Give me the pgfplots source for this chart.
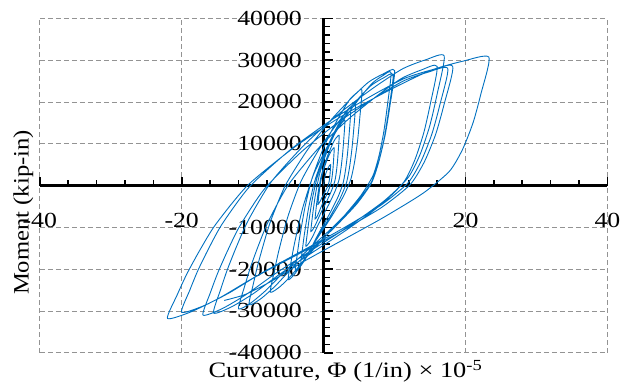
\documentclass[border=0pt]{standalone}
\usepackage{fontspec}
\setmainfont{Liberation Serif}
\usepackage{graphicx}
\usepackage{pgfplots}
\pgfplotsset{compat=1.18}
\definecolor{curve}{HTML}{0070C0}
\newcommand{\sx}[1]{\scalebox{1.2}[1]{#1}}
\begin{document}
\begin{tikzpicture}
\begin{axis}[
  scale only axis,
  width=567.6bp, height=334.4bp,
  xmin=-40, xmax=40, ymin=-40000, ymax=40000,
  scaled ticks=false,
  axis lines=middle,
  axis line style={-, line width=2.6bp, black},
  xtick={-40,-20,0,20,40},
  xticklabels={\sx{-40},\sx{-20},\sx{0},\sx{20},\sx{40}},
  ytick={-40000,-30000,-20000,-10000,0,10000,20000,30000,40000},
  yticklabels={\sx{-40000},\sx{-30000},\sx{-20000},\sx{-10000},\sx{0},\sx{10000},\sx{20000},\sx{30000},\sx{40000}},
  minor x tick num=4, minor y tick num=4,
  tick align=inside,
  major tick length=9bp, minor tick length=6bp,
  tick style={black, line width=1.6bp},
  grid=major,
  major grid style={dashed, dash pattern=on 5bp off 3bp, gray!85, line width=0.8bp},
  x tick label style={font=\fontsize{21.5bp}{24bp}\selectfont, anchor=center, yshift=-34.5bp, inner sep=0pt},
  y tick label style={font=\fontsize{21.5bp}{24bp}\selectfont, anchor=east, xshift=-21.6bp, inner sep=0pt},
  clip=false,
]
\addplot[color=curve, line width=0.9bp, smooth, tension=0.4] coordinates {
(0,0)
(0.03,450)(0.06,850)(0.1,1300)(0.15,1800)(0.25,2550)(0.4,3300)(0.55,3900)(0.7,4400)(0.82,4750)(0.92,4925)(1.0,5000)
(0.946,3575)(0.892,2435)(0.82,1390)(0.73,535)(0.55,-320)(0.28,-1270)(0.01,-2125)(-0.26,-2980)(-0.476,-3740)(-0.656,-4260)(-0.8,-4500)
(-0.73,-3285)(-0.66,-2205)(-0.57,-990)(-0.46,360)(-0.23,2385)(0.12,4410)(0.47,6030)(0.81,7380)(1.09,8325)(1.32,8800)(1.5,9000)
(1.42,6450)(1.34,4410)(1.23,2540)(1.1,1010)(0.83,-520)(0.42,-2220)(0.02,-3750)(-0.39,-5280)(-0.71,-6640)(-0.98,-7580)(-1.2,-8000)
(-1.1,-6200)(-1.0,-4600)(-0.86,-2800)(-0.69,-800)(-0.35,2200)(0.16,5200)(0.67,7600)(1.18,9600)(1.59,11000)(1.93,11700)(2.2,12000)
(2.08,8550)(1.96,5790)(1.8,3260)(1.6,1190)(1.2,-880)(0.6,-3180)(0.0,-5250)(-0.6,-7320)(-1.08,-9160)(-1.48,-10430)(-1.8,-11000)
(-1.66,-8615)(-1.51,-6495)(-1.32,-4110)(-1.08,-1460)(-0.6,2515)(0.12,6490)(0.84,9670)(1.56,12320)(2.14,14175)(2.62,15100)(3.0,15500)
(2.84,11000)(2.67,7400)(2.45,4100)(2.18,1400)(1.63,-1300)(0.8,-4300)(-0.03,-7000)(-0.85,-9700)(-1.51,-12100)(-2.06,-13750)(-2.5,-14500)
(-2.31,-11620)(-2.12,-9060)(-1.87,-6180)(-1.56,-2980)(-0.93,1820)(0.02,6620)(0.97,10460)(1.91,13660)(2.67,15900)(3.3,17020)(3.8,17500)
(3.59,12100)(3.38,7780)(3.1,3820)(2.75,580)(2.05,-2660)(1.0,-6260)(-0.05,-9500)(-1.1,-12740)(-1.94,-15620)(-2.64,-17600)(-3.2,-18500)
(-2.97,-15080)(-2.74,-12040)(-2.43,-8620)(-2.05,-4820)(-1.28,880)(-0.12,6580)(1.04,11140)(2.19,14940)(3.11,17600)(3.88,18930)(4.5,19500)
(4.25,13500)(3.99,8700)(3.65,4300)(3.23,700)(2.38,-2900)(1.1,-6900)(-0.18,-10500)(-1.45,-14100)(-2.47,-17300)(-3.32,-19500)(-4.0,-20500)
(-3.72,-16600)(-3.44,-13140)(-3.06,-9240)(-2.59,-4910)(-1.65,1580)(-0.24,8080)(1.17,13270)(2.58,17600)(3.71,20640)(4.65,22150)(5.4,22800)
(5.09,16000)(4.78,10570)(4.36,5590)(3.84,1510)(2.8,-2570)(1.24,-7100)(-0.32,-11180)(-1.88,-15250)(-3.13,-18880)(-4.17,-21370)(-5.0,-22500)
(-4.57,-18050)(-4.13,-14090)(-3.55,-9630)(-2.83,-4680)(-1.38,2750)(0.8,10170)(2.98,16110)(5.15,21060)(6.89,24530)(8.34,26260)(9.5,27000)
(8.99,19130)(8.48,12830)(7.8,7050)(6.95,2330)(5.25,-2400)(2.7,-7650)(0.15,-12380)(-2.4,-17100)(-4.44,-21300)(-6.14,-24190)(-7.5,-25500)
(-6.98,-20820)(-6.46,-16660)(-5.77,-11980)(-4.91,-6780)(-3.18,1020)(-0.58,8820)(2.02,15060)(4.61,20260)(6.69,23900)(8.42,25720)(9.8,26500)
(9.19,18250)(8.58,11650)(7.77,5600)(6.76,650)(4.73,-4300)(1.68,-9800)(-1.37,-14750)(-4.41,-19700)(-6.85,-24100)(-8.88,-27130)(-10.5,-28500)
(-9.89,-23460)(-9.27,-18980)(-8.45,-13940)(-7.43,-8340)(-5.38,60)(-2.3,8460)(0.78,15180)(3.85,20780)(6.31,24700)(8.36,26660)(10.0,27500)
(9.34,18950)(8.68,12110)(7.8,5840)(6.7,710)(4.5,-4420)(1.2,-10120)(-2.1,-15250)(-5.4,-20380)(-8.04,-24940)(-10.24,-28080)(-12,-29500)
(-11.16,-24280)(-10.32,-19640)(-9.2,-14420)(-7.8,-8620)(-5.0,80)(-0.8,8780)(3.4,15740)(7.6,21540)(10.96,25600)(13.76,27630)(16,28500)
(15.06,19650)(14.11,12570)(12.85,6080)(11.28,770)(8.13,-4540)(3.4,-10440)(-1.33,-15750)(-6.05,-21060)(-9.83,-25780)(-12.98,-29030)(-15.5,-30500)
(-14.53,-24970)(-13.55,-20050)(-12.25,-14510)(-10.63,-8360)(-7.38,870)(-2.5,10090)(2.38,17470)(7.25,23620)(11.15,27930)(14.4,30080)(17,31000)
(15.98,21700)(14.96,14260)(13.6,7440)(11.9,1860)(8.5,-3720)(3.4,-9920)(-1.7,-15500)(-6.8,-21080)(-10.88,-26040)(-14.28,-29450)(-17,-31000)
(-15.97,-25690)(-14.93,-20970)(-13.55,-15660)(-11.83,-9760)(-8.38,-910)(-3.2,7940)(1.98,15020)(7.15,20920)(11.29,25050)(14.74,27120)(17.5,28000)
(16.38,19260)(15.25,12260)(13.75,5850)(11.88,600)(8.13,-4650)(2.5,-10480)(-3.13,-15730)(-8.75,-20970)(-13.25,-25640)(-17.0,-28840)(-20,-30300)
(-18.85,-25010)(-17.71,-20300)(-16.18,-15010)(-14.27,-9130)(-10.45,-310)(-4.72,8510)(1.01,15560)(6.74,21440)(11.32,25560)(15.14,27620)(18.2,28500)
(16.99,19460)(15.79,12220)(14.18,5590)(12.17,160)(8.15,-5270)(2.12,-11300)(-3.91,-16730)(-9.94,-22150)(-14.76,-26980)(-18.78,-30290)(-22,-31800)
(-20.64,-26180)(-19.28,-21180)(-17.47,-15550)(-15.21,-9300)(-10.68,80)(-3.88,9450)(2.92,16950)(9.71,23200)(15.15,27580)(19.68,29760)(23.3,30700)
(22.18,21970)(21.06,14990)(19.57,8580)(17.71,3350)(13.98,-1890)(8.38,-7710)(2.79,-12950)(-2.81,-18190)(-7.29,-22840)(-11.02,-26050)(-14,-27500)
};
\end{axis}
\node[anchor=base, font=\fontsize{22bp}{24bp}\selectfont, inner sep=0pt] at (305.7bp,-25bp)
  {\sx{Curvature, Φ (1/in) × 10\textsuperscript{-5}}};
\node[anchor=base, rotate=90, font=\fontsize{22bp}{24bp}\selectfont, inner sep=0pt] at (-11.3bp,140.2bp)
  {\scalebox{1.12}[1]{Moment (kip-in)}};
\pgfresetboundingbox
\useasboundingbox (-39.8bp,-33.3bp) rectangle (581.2bp,352.7bp);
\end{tikzpicture}
\end{document}
